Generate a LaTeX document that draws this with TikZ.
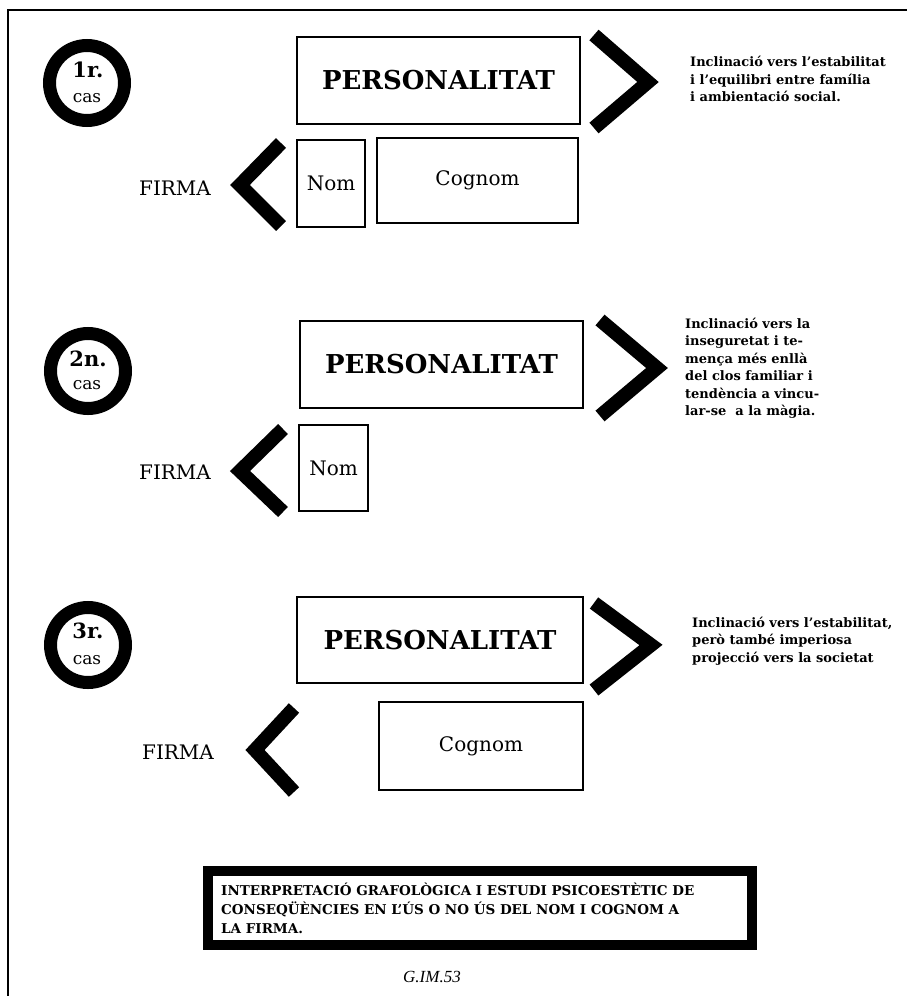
\documentclass[tikz,border=0pt]{standalone}
\usepackage{fontspec}
\setmainfont{DejaVu Serif}
\newfontfamily\timesfont{Liberation Serif}
\begin{document}
\begin{tikzpicture}[x=1pt,y=-1pt,
  frame/.style={line width=1.6pt},
  pbox/.style={draw, line width=2pt, rectangle, inner sep=0pt},
  ring/.style={draw, circle, line width=13pt, minimum size=75pt, inner sep=0pt},
  chev/.style={line width=14pt, line join=miter, line cap=butt},
  bigtxt/.style={font=\fontsize{26}{30}\selectfont\bfseries},
  midtxt/.style={font=\fontsize{20}{24}\selectfont},
  numtxt/.style={font=\fontsize{21}{24}\selectfont\bfseries},
  castxt/.style={font=\fontsize{17}{20}\selectfont},
  desc/.style={anchor=west, align=left, inner sep=0pt, font=\fontsize{13}{17.5}\selectfont\bfseries},
  caption/.style={align=left, inner sep=0pt, font=\fontsize{13.5}{19}\selectfont\bfseries}
]
\useasboundingbox (0,0) rectangle (907,996);
\fill[white] (0,0) rectangle (907,996);
% frame (top and left only visible)
\coordinate (ftl) at (8,10);
\coordinate (ftr) at (907,10);
\coordinate (fbl) at (8,996);
\draw[frame] (ftr) -- (ftl) -- (fbl);

% ===== case 1 =====
\node[ring] (c1) at (87,83) {};
\node[numtxt] (c1a) at (88,70) {1r.};
\node[castxt] (c1b) at (87,98) {cas};
\node[pbox, minimum width=283pt, minimum height=87pt, bigtxt] (p1) at (438.5,80.5) {PERSONALITAT};
\node[pbox, minimum width=68pt, minimum height=87pt, midtxt] (n1) at (331,183.5) {Nom};
\node[pbox, minimum width=201pt, minimum height=85pt, midtxt] (g1) at (477.5,180.5) {Cognom};
\coordinate (r1a) at (594,35); \coordinate (r1b) at (648,82); \coordinate (r1c) at (594,128);
\draw[chev] (r1a) -- (r1b) -- (r1c);
\coordinate (l1a) at (281,143); \coordinate (l1b) at (240,185); \coordinate (l1c) at (281,226);
\draw[chev] (l1a) -- (l1b) -- (l1c);
\node[midtxt] (f1) at (175,188) {FIRMA};
\node[desc] (d1) at (690,79) {Inclinació vers l'estabilitat\\i l'equilibri entre família\\i ambientació social.};

% ===== case 2 =====
\node[ring] (c2) at (88,371) {};
\node[numtxt] (c2a) at (88,359) {2n.};
\node[castxt] (c2b) at (87,385) {cas};
\node[pbox, minimum width=283pt, minimum height=87pt, bigtxt] (p2) at (441.5,364.5) {PERSONALITAT};
\node[pbox, minimum width=69pt, minimum height=86pt, midtxt] (n2) at (333.5,468) {Nom};
\coordinate (r2a) at (600,320); \coordinate (r2b) at (657,368); \coordinate (r2c) at (600,416);
\draw[chev] (r2a) -- (r2b) -- (r2c);
\coordinate (l2a) at (283,429); \coordinate (l2b) at (240,471); \coordinate (l2c) at (283,512);
\draw[chev] (l2a) -- (l2b) -- (l2c);
\node[midtxt] (f2) at (175,472) {FIRMA};
\node[desc] (d2) at (685,368) {Inclinació vers la\\inseguretat i te-\\mença més enllà\\del clos familiar i\\tendència a vincu-\\lar-se \ a la màgia.};

% ===== case 3 =====
\node[ring] (c3) at (88,645) {};
\node[numtxt] (c3a) at (88,631) {3r.};
\node[castxt] (c3b) at (87,660) {cas};
\node[pbox, minimum width=286pt, minimum height=86pt, bigtxt] (p3) at (440,640) {PERSONALITAT};
\node[pbox, minimum width=204pt, minimum height=88pt, midtxt] (g3) at (481,746) {Cognom};
\coordinate (r3a) at (594,603); \coordinate (r3b) at (651,645); \coordinate (r3c) at (594,690);
\draw[chev] (r3a) -- (r3b) -- (r3c);
\coordinate (l3a) at (294,708); \coordinate (l3b) at (255,750); \coordinate (l3c) at (294,792);
\draw[chev] (l3a) -- (l3b) -- (l3c);
\node[midtxt] (f3) at (178,752) {FIRMA};
\node[desc] (d3) at (692,641) {Inclinació vers l'estabilitat,\\però també imperiosa\\projecció vers la societat};

% ===== bottom caption box =====
\draw[line width=10pt] (208,871) rectangle (752,945);
\node[caption, anchor=west] (cap) at (221,908) {INTERPRETACIÓ GRAFOLÒGICA I ESTUDI PSICOESTÈTIC DE\\CONSEQÜÈNCIES EN L'ÚS O NO ÚS DEL NOM I COGNOM A\\LA FIRMA.};
\node[font=\timesfont\itshape\fontsize{17}{20}\selectfont] (gim) at (432,977) {G.IM.53};
\end{tikzpicture}
\end{document}
